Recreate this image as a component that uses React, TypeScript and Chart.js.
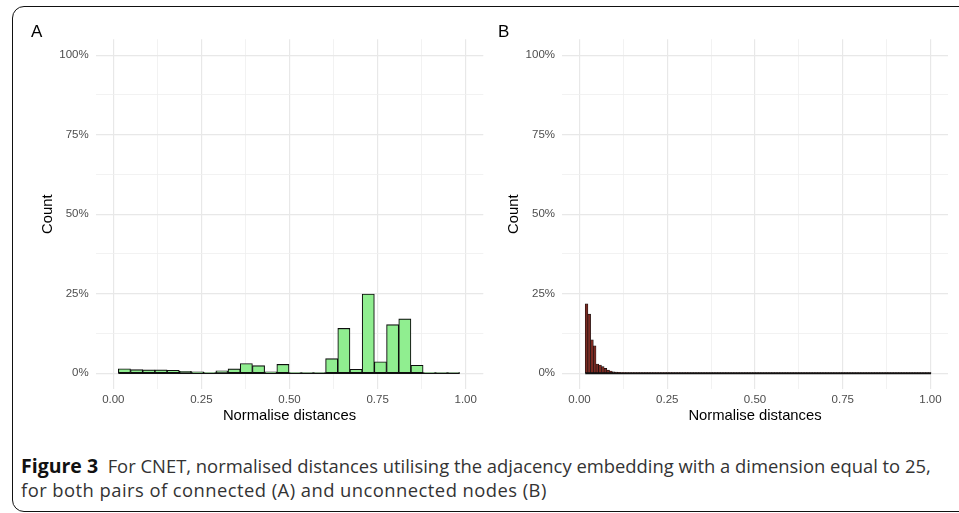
import React, { useEffect, useRef } from "react";
import { Chart, registerables } from "chart.js";

Chart.register(...registerables);

// ---------- data ----------
// Panel A: connected node pairs (percent of pairs per bin)
const binWidthA = 0.0346;
const binCentersA = [
  0.0315, 0.0661, 0.1007, 0.1353, 0.1699, 0.2045, 0.2391, 0.2737, 0.3083, 0.3429,
  0.3775, 0.4121, 0.4467, 0.4813, 0.5159, 0.5505, 0.5851, 0.6197, 0.6543, 0.6889,
  0.7235, 0.7581, 0.7927, 0.8273, 0.8619, 0.8965, 0.9311, 0.9657,
];
const percentA = [
  1.4, 1.15, 1.05, 1.05, 0.95, 0.63, 0.42, 0.2, 0.74, 1.37,
  3.05, 2.4, 0.42, 2.8, 0.2, 0.05, 0.1, 4.6, 14.1, 1.26,
  24.9, 3.6, 15.3, 17.1, 2.5, 0.2, 0.05, 0.05,
];

// Panel B: unconnected node pairs
const binWidthB = 0.0077;
const binCentersB = [
  0.0200, 0.0277, 0.0354, 0.0431, 0.0508, 0.0585, 0.0662, 0.0739, 0.0816, 0.0893,
  0.0970, 0.1047, 0.1124, 0.1201, 0.1278, 0.1355, 0.1432, 0.1509, 0.1586, 0.1663,
  0.1740, 0.1817, 0.1894, 0.1971, 0.2048, 0.2125, 0.2202, 0.2279, 0.2356, 0.2433,
  0.2510, 0.2587, 0.2664, 0.2741, 0.2818, 0.2895, 0.2972, 0.3049, 0.3126, 0.3203,
  0.3280, 0.3357, 0.3434, 0.3511, 0.3588, 0.3665, 0.3742, 0.3819, 0.3896, 0.3973,
  0.4050, 0.4127, 0.4204, 0.4281, 0.4358, 0.4435, 0.4512, 0.4589, 0.4666, 0.4743,
  0.4820, 0.4897, 0.4974, 0.5051, 0.5128, 0.5205, 0.5282, 0.5359, 0.5436, 0.5513,
  0.5590, 0.5667, 0.5744, 0.5821, 0.5898, 0.5975, 0.6052, 0.6129, 0.6206, 0.6283,
  0.6360, 0.6437, 0.6514, 0.6591, 0.6668, 0.6745, 0.6822, 0.6899, 0.6976, 0.7053,
  0.7130, 0.7207, 0.7284, 0.7361, 0.7438, 0.7515, 0.7592, 0.7669, 0.7746, 0.7823,
  0.7900, 0.7977, 0.8054, 0.8131, 0.8208, 0.8285, 0.8362, 0.8439, 0.8516, 0.8593,
  0.8670, 0.8747, 0.8824, 0.8901, 0.8978, 0.9055, 0.9132, 0.9209, 0.9286, 0.9363,
  0.9440, 0.9517, 0.9594, 0.9671, 0.9748, 0.9825, 0.9902, 0.9979,
];
const percentB = [
  21.8, 18.6, 10.5, 8.6, 2.9, 2.6, 2.1, 1.55, 1.0, 0.7,
  0.45, 0.35, 0.28, 0.22, 0.18, 0.15, 0.12, 0.1, 0.09, 0.08,
  0.07, 0.06, 0.06, 0.05, 0.05, 0.04, 0.04, 0.04, 0.03, 0.03,
  0.03, 0.03, 0.03, 0.02, 0.03, 0.02, 0.02, 0.03, 0.02, 0.02,
  0.02, 0.02, 0.02, 0.02, 0.02, 0.02, 0.02, 0.02, 0.02, 0.02,
  0.02, 0.02, 0.02, 0.02, 0.02, 0.02, 0.02, 0.02, 0.02, 0.02,
  0.02, 0.02, 0.02, 0.02, 0.02, 0.02, 0.02, 0.02, 0.02, 0.02,
  0.02, 0.02, 0.02, 0.02, 0.02, 0.02, 0.02, 0.02, 0.02, 0.02,
  0.02, 0.02, 0.02, 0.02, 0.02, 0.02, 0.02, 0.02, 0.02, 0.02,
  0.02, 0.02, 0.02, 0.02, 0.02, 0.02, 0.02, 0.02, 0.02, 0.02,
  0.02, 0.02, 0.02, 0.02, 0.02, 0.02, 0.02, 0.02, 0.02, 0.02,
  0.02, 0.02, 0.02, 0.02, 0.02, 0.02, 0.02, 0.02, 0.02, 0.02,
  0.02, 0.02, 0.02, 0.02, 0.02, 0.02, 0.02, 0.02,
];

const xTicks = [0, 0.125, 0.25, 0.375, 0.5, 0.625, 0.75, 0.875, 1];
const xMajor = [0, 0.25, 0.5, 0.75, 1];
const yTicks = [0, 12.5, 25, 37.5, 50, 62.5, 75, 87.5, 100];
const yMajor = [0, 25, 50, 75, 100];
const xLimits = [-0.05, 1.05];
const yLimits = [-5, 105];

const xTitle = "Normalise distances";
const yTitle = "Count";

// ---------- styles ----------
const TICK_FONT = { family: "'Liberation Sans', Arial, sans-serif", size: 11.5 };
const TITLE_FONT = { family: "'Liberation Sans', Arial, sans-serif", size: 14.8 };
const CANVAS_H = 430;

type PanelProps = {
  left: number;
  width: number;
  yAxisWidth: number;
  yTitlePad: number;
  rightPad: number;
  centers: number[];
  values: number[];
  binWidth: number;
  fill: string;
  barBorder: number;
  baseWidth: number;
};

function isIn(list: number[], v: number) {
  return list.some((m) => Math.abs(m - v) < 1e-9);
}

function Panel(p: PanelProps) {
  const ref = useRef<HTMLCanvasElement>(null);
  useEffect(() => {
    const first = p.centers[0] - p.binWidth / 2;
    const last = p.centers[p.centers.length - 1] + p.binWidth / 2;
    const chart = new Chart(ref.current as HTMLCanvasElement, {
      type: "bar",
      data: {
        datasets: [
          {
            type: "bar",
            data: p.centers.map((x, i) => ({ x, y: p.values[i] })),
            backgroundColor: p.fill,
            borderColor: "#0d0d0d",
            borderWidth: p.barBorder,
            borderSkipped: false,
            barPercentage: 1,
            categoryPercentage: 1,
            order: 2,
          } as any,
          {
            type: "line",
            data: [
              { x: first, y: 0 },
              { x: last, y: 0 },
            ],
            borderColor: "#111",
            borderWidth: p.baseWidth,
            pointRadius: 0,
            order: 1,
          } as any,
        ],
      },
      options: {
        animation: false,
        responsive: false,
        maintainAspectRatio: false,
        layout: { padding: { top: 39.2, left: 0, right: p.rightPad, bottom: 0 } },
        plugins: { legend: { display: false }, tooltip: { enabled: false } },
        scales: {
          x: {
            type: "linear",
            min: xLimits[0],
            max: xLimits[1],
            offset: false,
            border: { display: false },
            grid: {
              offset: false,
              drawTicks: false,
              color: (c: any) => (c.tick && isIn(xMajor, c.tick.value) ? "#e8e8e8" : "#efefef"),
              lineWidth: (c: any) => (c.tick && isIn(xMajor, c.tick.value) ? 1.2 : 0.8),
            },
            ticks: {
              autoSkip: false,
              maxRotation: 0,
              padding: 4,
              color: "#4d4d4d",
              font: TICK_FONT,
              callback: (v: any) => (isIn(xMajor, Number(v)) ? Number(v).toFixed(2) : ""),
            },
            title: {
              display: true,
              text: xTitle,
              color: "#000",
              font: TITLE_FONT,
              padding: { top: 0, bottom: 5 },
            },
            afterBuildTicks: (s: any) => {
              s.ticks = xTicks.map((value) => ({ value }));
            },
            afterFit: (s: any) => {
              s.height = CANVAS_H - 389.2;
            },
          } as any,
          y: {
            type: "linear",
            min: yLimits[0],
            max: yLimits[1],
            border: { display: false },
            grid: {
              drawTicks: false,
              color: (c: any) => (c.tick && isIn(yMajor, c.tick.value) ? "#e8e8e8" : "#efefef"),
              lineWidth: (c: any) => (c.tick && isIn(yMajor, c.tick.value) ? 1.2 : 0.8),
            },
            ticks: {
              autoSkip: false,
              padding: 7,
              color: "#4d4d4d",
              font: TICK_FONT,
              callback: (v: any) => (isIn(yMajor, Number(v)) ? `${Number(v)}%` : ""),
            },
            title: {
              display: true,
              text: yTitle,
              color: "#000",
              font: TITLE_FONT,
              padding: { top: p.yTitlePad, bottom: 0 },
            },
            afterBuildTicks: (s: any) => {
              s.ticks = yTicks.map((value) => ({ value }));
            },
            afterFit: (s: any) => {
              s.width = p.yAxisWidth;
            },
          } as any,
        },
      },
    });
    return () => chart.destroy();
  }, []);
  return (
    <canvas
      ref={ref}
      width={p.width}
      height={CANVAS_H}
      style={{ position: "absolute", left: p.left, top: 0, width: p.width, height: CANVAS_H }}
    />
  );
}

const panelLabel: React.CSSProperties = {
  position: "absolute",
  top: 22.8,
  fontFamily: "'Liberation Sans', Arial, sans-serif",
  fontSize: 17,
  lineHeight: "17px",
  color: "#000",
};

export default function App() {
  return (
    <div
      style={{
        position: "fixed",
        left: 0,
        top: 0,
        width: 959,
        height: 513,
        overflow: "hidden",
        background: "#fff",
      }}
    >
      <div
        style={{
          position: "absolute",
          left: 11.5,
          top: 5.5,
          width: 1000,
          height: 506,
          border: "1.5px solid #111",
          borderRadius: 12,
          boxSizing: "border-box",
        }}
      />
      <Panel
        left={0}
        width={490}
        yAxisWidth={95.7}
        yTitlePad={39.1}
        rightPad={6.7}
        centers={binCentersA}
        values={percentA}
        binWidth={binWidthA}
        fill="#90ee90"
        barBorder={1.1}
        baseWidth={1.3}
      />
      <Panel
        left={490}
        width={469}
        yAxisWidth={72}
        yTitlePad={15.4}
        rightPad={11}
        centers={binCentersB}
        values={percentB}
        binWidth={binWidthB}
        fill="#7a2a22"
        barBorder={0.6}
        baseWidth={1.7}
      />
      <div style={{ ...panelLabel, left: 31 }}>A</div>
      <div style={{ ...panelLabel, left: 498 }}>B</div>
      <div
        style={{
          position: "absolute",
          left: 21,
          top: 454,
          fontFamily: "'Open Sans', 'Noto Sans', sans-serif",
          fontSize: 18.4,
          lineHeight: "24px",
          color: "#333",
          whiteSpace: "nowrap",
        }}
      >
        <div>
          <span style={{ fontWeight: 700, color: "#111", fontSize: 19.5 }}>Figure 3</span>
          {"\u00a0\u00a0For CNET, normalised distances utilising the adjacency embedding with a dimension equal to 25,"}
        </div>
        <div style={{ letterSpacing: 0.45 }}>
          {"for both pairs of connected (A) and unconnected nodes (B)"}
        </div>
      </div>
    </div>
  );
}
